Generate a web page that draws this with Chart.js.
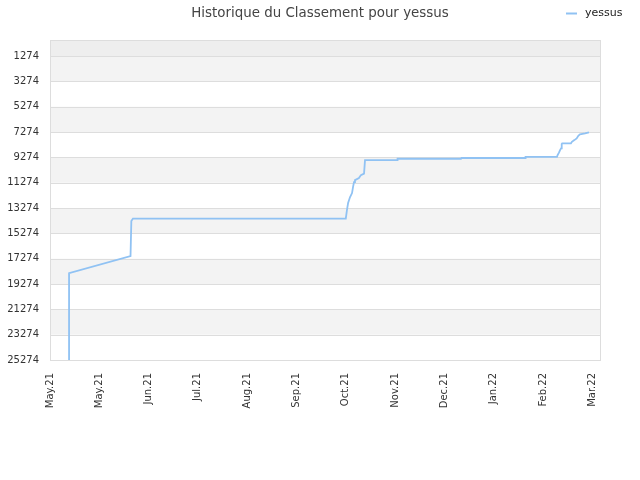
<!DOCTYPE html>
<html>
<head>
<meta charset="utf-8">
<title>Historique du Classement pour yessus</title>
<script src="https://cdn.jsdelivr.net/npm/chart.js@4.4.0/dist/chart.umd.min.js"></script>
<style>
    html, body { margin: 0; padding: 0; background: #fff; }
    #wrap { width: 640px; height: 480px; }
</style>
</head>
<body>
<div id="wrap"><canvas id="rankChart"></canvas></div>
<script>
// Tick labels of the x axis, one every 30 days
const xLabels = ['May.21', 'May.21', 'Jun.21', 'Jul.21', 'Aug.21', 'Sep.21',
    'Oct.21', 'Nov.21', 'Dec.21', 'Jan.22', 'Feb.22', 'Mar.22'];
const yTicks = [1274, 3274, 5274, 7274, 9274, 11274, 13274, 15274, 17274, 19274, 21274, 23274, 25274];

// Days since the first label, and the rank on that day
const days = [11.6, 11.6, 49.0, 49.5, 50.5, 180.0, 180.7, 181.4, 182.0, 182.6,
    183.8, 184.4, 185.0, 185.6, 188.0, 189.2, 191.1, 191.7, 211.2, 211.5,
    250.1, 250.4, 289.1, 289.4, 308.5, 308.9, 309.8, 310.4, 311.0, 311.4,
    311.7, 317.0, 317.6, 319.1, 320.5, 321.5, 322.5, 325.6, 328.0];
const ranks = [25274, 18408, 17066, 14302, 14105, 14105, 13434, 12881, 12644, 12407,
    12092, 11618, 11223, 11065, 10907, 10670, 10551, 9486, 9486, 9380,
    9380, 9320, 9320, 9230, 9230, 9091, 8878, 8696, 8562, 8222,
    8167, 8167, 8041, 7907, 7772, 7567, 7457, 7378, 7299];

const seriesName = 'yessus';
const lineColor = '#90c2f3';

// Alternate grey bands between the y ticks, plus a frame round the plot
const bandsPlugin = {
    id: 'bands',
    beforeDatasetsDraw(chart) {
        const { ctx, chartArea: a, scales } = chart;
        const y = scales.y;
        ctx.save();
        const edges = [0].concat(yTicks);
        for (let i = 0; i < edges.length - 1; i++) {
            let fill = null;
            if (i === 0) fill = '#eeeeee';
            else if (i % 2 === 1) fill = '#f3f3f3';
            if (!fill) continue;
            const top = y.getPixelForValue(edges[i]);
            const bottom = y.getPixelForValue(edges[i + 1]);
            ctx.fillStyle = fill;
            ctx.fillRect(a.left, top, a.right - a.left, bottom - top);
        }
        ctx.strokeStyle = '#dddddd';
        ctx.lineWidth = 1;
        yTicks.forEach(v => {
            const py = Math.round(y.getPixelForValue(v)) + 0.5;
            ctx.beginPath();
            ctx.moveTo(a.left, py);
            ctx.lineTo(a.right, py);
            ctx.stroke();
        });
        ctx.strokeRect(Math.round(a.left) + 0.5, Math.round(a.top) + 0.5,
            Math.round(a.right - a.left), Math.round(a.bottom - a.top));
        ctx.restore();
    },
    afterDraw(chart) {
        // legend on the same line as the title, top right
        const ctx = chart.ctx;
        ctx.save();
        ctx.strokeStyle = lineColor;
        ctx.lineWidth = 2;
        ctx.beginPath();
        ctx.moveTo(566, 13.5);
        ctx.lineTo(577, 13.5);
        ctx.stroke();
        ctx.fillStyle = '#222222';
        ctx.font = '11px "DejaVu Sans"';
        ctx.textBaseline = 'middle';
        ctx.fillText(chart.data.datasets[0].label, 585, 13);
        ctx.restore();
    }
};

const ctx = document.getElementById('rankChart');
new Chart(ctx, {
    type: 'line',
    data: {
        datasets: [{
            label: seriesName,
            data: days.map((d, i) => ({ x: d, y: ranks[i] })),
            borderColor: lineColor,
            backgroundColor: lineColor,
            borderWidth: 1.8,
            pointRadius: 0,
            tension: 0,
            fill: false
        }]
    },
    options: {
        responsive: true,
        maintainAspectRatio: false,
        animation: false,
        layout: {
            padding: 0
        },
        plugins: {
            legend: { display: false },
            tooltip: { enabled: false },
            title: {
                display: true,
                text: 'Historique du Classement pour yessus',
                color: '#444444',
                font: { family: 'DejaVu Sans', size: 13.4, weight: 'normal' },
                padding: { top: 5.5, bottom: 18.4 }
            }
        },
        scales: {
            x: {
                type: 'linear',
                min: 0,
                max: 334.7,
                afterBuildTicks: scale => {
                    scale.ticks = xLabels.map((l, i) => ({ value: i * 30 }));
                },
                afterFit: scale => { scale.height = 120; },
                grid: { display: false, drawTicks: false },
                border: { display: false },
                ticks: {
                    autoSkip: false,
                    minRotation: 90,
                    maxRotation: 90,
                    padding: 13,
                    color: '#333333',
                    font: { family: 'DejaVu Sans', size: 10 },
                    callback: (v) => xLabels[Math.round(v / 30)]
                }
            },
            y: {
                type: 'linear',
                reverse: true,
                min: 0,
                max: 25274,
                afterBuildTicks: scale => {
                    scale.ticks = yTicks.map(v => ({ value: v }));
                },
                afterFit: scale => { scale.width = 50; },
                grid: { display: false, drawTicks: false },
                border: { display: false },
                ticks: {
                    padding: 11,
                    color: '#333333',
                    font: { family: 'DejaVu Sans', size: 10 },
                    callback: v => String(v)
                }
            },
            // empty axis that only keeps the right margin free
            yRight: {
                type: 'linear',
                position: 'right',
                afterFit: scale => { scale.width = 40; },
                grid: { display: false, drawTicks: false },
                border: { display: false },
                ticks: { display: false }
            }
        }
    },
    plugins: [bandsPlugin]
});
</script>
</body>
</html>
